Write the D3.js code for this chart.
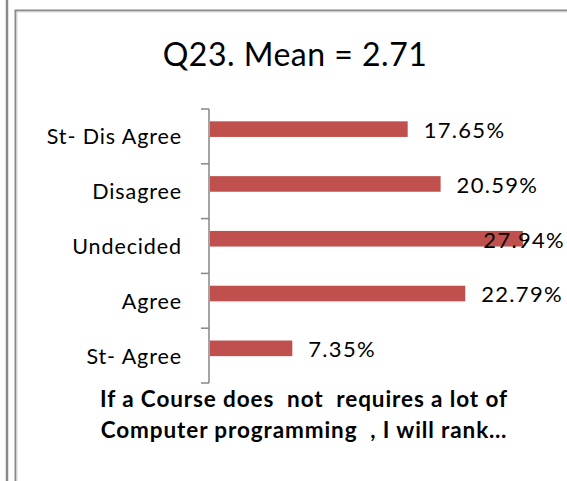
<!DOCTYPE html>
<html lang="en">
<head>
<meta charset="UTF-8">
<title>Q23</title>
<script src="https://d3js.org/d3.v7.min.js"></script>
<style>
  body { margin: 0; background: #fff; }
  text { font-family: Lato, "Open Sans", sans-serif; fill: #000; white-space: pre; }
</style>
</head>
<body>
<svg width="567" height="481"></svg>
<script>
    // chart values
    const categories = ["St- Dis Agree", "Disagree", "Undecided", "Agree", "St- Agree"];
    const percents = [17.65, 20.59, 27.94, 22.79, 7.35];
    const titleText = "Q23. Mean = 2.71";
    const captionLines = ["If a Course does  not  requires a lot of",
                          "Computer programming  , I will rank\u2026"];

    const svg = d3.select("svg"),
        width = +svg.attr("width"),
        height = +svg.attr("height");

    // page frame lines
    svg.append("line").attr("x1", 7).attr("x2", 7).attr("y1", 0).attr("y2", height)
        .attr("stroke", "#8a8a8a").attr("stroke-width", 2.5);
    svg.append("path")
        .attr("d", `M15.5,${height} L15.5,10.5 L${width},10.5`)
        .attr("fill", "none").attr("stroke", "#8a8a8a").attr("stroke-width", 2);
    svg.append("path")
        .attr("d", `M17,${height} L17,12 L${width},12`)
        .attr("fill", "none").attr("stroke", "#d9d9d9").attr("stroke-width", 1);

    // scales
    const x = d3.scaleLinear().domain([0, 30]).range([210, 546]);
    const y = d3.scaleBand().domain(categories).range([109, 383]);
    const bw = y.bandwidth();

    // title
    svg.append("text")
        .attr("x", 295).attr("y", 66)
        .attr("text-anchor", "middle")
        .attr("font-size", 32)
        .attr("letter-spacing", 0.5)
        .text(titleText);

    // axis line + ticks at band boundaries
    const axis = svg.append("g").attr("stroke", "#868686").attr("stroke-width", 1.5);
    axis.append("line").attr("x1", 209).attr("x2", 209)
        .attr("y1", y.range()[0]).attr("y2", y.range()[1]);
    const tickPos = categories.map(d => y(d)).concat([y.range()[1]]);
    axis.selectAll("line.tick").data(tickPos).enter().append("line")
        .attr("class", "tick")
        .attr("x1", 201).attr("x2", 209)
        .attr("y1", d => d).attr("y2", d => d);

    // bars
    svg.append("g").selectAll("rect")
        .data(categories)
        .enter().append("rect")
        .attr("x", x(0))
        .attr("y", d => y(d) + bw * 0.225)
        .attr("width", (d, i) => x(percents[i]) - x(0))
        .attr("height", bw * 0.285)
        .attr("fill", "#C0504D");

    // category labels
    svg.append("g").selectAll("text")
        .data(categories)
        .enter().append("text")
        .attr("x", 182)
        .attr("y", d => y(d) + bw / 2 + 8)
        .attr("text-anchor", "end")
        .attr("font-size", 21.5)
        .attr("letter-spacing", 0.9)
        .text(d => d);

    // value labels (pushed back inside the frame when they would overflow)
    svg.append("g").selectAll("text")
        .data(categories)
        .enter().append("text")
        .attr("y", d => y(d) + bw * 0.53)
        .attr("font-size", 22)
        .attr("letter-spacing", 1.3)
        .text((d, i) => percents[i].toFixed(2) + "%")
        .attr("x", function (d, i) {
            const w = this.getComputedTextLength();
            return Math.min(x(percents[i]) + 16, width - 2 - w);
        });

    // caption
    svg.append("g").selectAll("text")
        .data(captionLines)
        .enter().append("text")
        .attr("x", 304)
        .attr("y", (d, i) => 407 + i * 31)
        .attr("text-anchor", "middle")
        .attr("font-size", 22.5)
        .attr("font-weight", "bold")
        .attr("letter-spacing", 0.9)
        .text(d => d);
</script>
</body>
</html>
